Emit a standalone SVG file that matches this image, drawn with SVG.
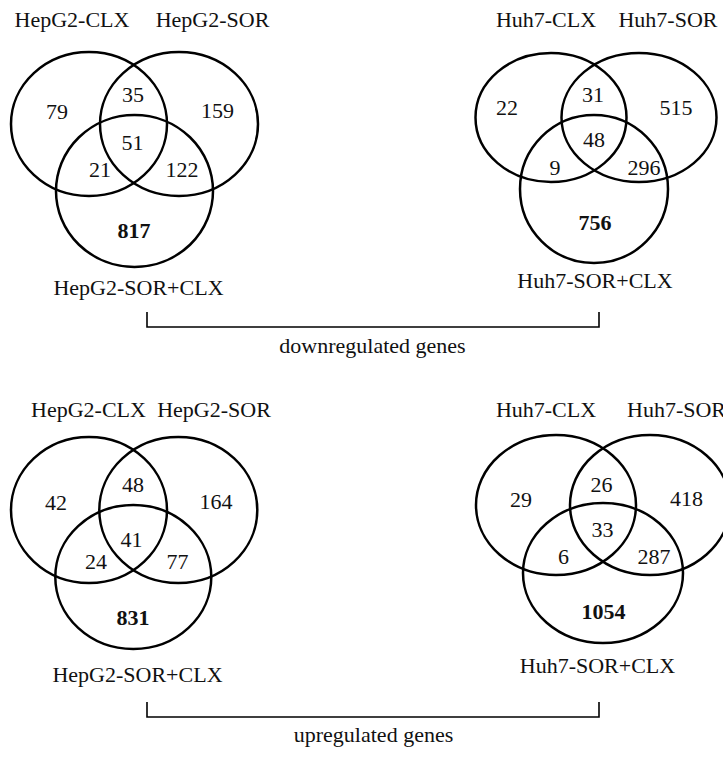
<svg xmlns="http://www.w3.org/2000/svg" width="723" height="757" viewBox="0 0 723 757">
<style>
.c{fill:none;stroke:#000;stroke-width:2.5}
.t{font-family:"Liberation Serif","Times New Roman",serif;font-size:22px;fill:#111;text-anchor:middle}
.b{font-weight:bold}
.s{text-anchor:start}
.br{fill:none;stroke:#000;stroke-width:1.6}
</style>
<rect width="723" height="757" fill="#fff"/>
<g id="venn-hepg2-down">
<ellipse class="c" cx="89" cy="124" rx="78" ry="72"/>
<ellipse class="c" cx="179" cy="124" rx="79" ry="72"/>
<ellipse class="c" cx="134.5" cy="191" rx="78.5" ry="76"/>
<text class="t" x="72" y="27">HepG2-CLX</text>
<text class="t" x="212.5" y="27">HepG2-SOR</text>
<text class="t" x="57" y="119">79</text>
<text class="t" x="133" y="102">35</text>
<text class="t" x="217.5" y="118">159</text>
<text class="t" x="132.5" y="150">51</text>
<text class="t" x="100" y="177">21</text>
<text class="t" x="182" y="177">122</text>
<text class="t b" x="134" y="238">817</text>
<text class="t" x="138.5" y="295">HepG2-SOR+CLX</text>
</g>
<g id="venn-huh7-down">
<ellipse class="c" cx="551" cy="117.5" rx="75.5" ry="64.5"/>
<ellipse class="c" cx="639" cy="117.5" rx="77.5" ry="64.5"/>
<ellipse class="c" cx="594" cy="189" rx="74" ry="74"/>
<text class="t" x="546" y="27">Huh7-CLX</text>
<text class="t" x="668" y="27">Huh7-SOR</text>
<text class="t" x="507" y="115">22</text>
<text class="t" x="593" y="102">31</text>
<text class="t" x="676" y="115">515</text>
<text class="t" x="594" y="147">48</text>
<text class="t" x="555" y="175">9</text>
<text class="t" x="644" y="175">296</text>
<text class="t b" x="595" y="230">756</text>
<text class="t" x="595" y="288">Huh7-SOR+CLX</text>
</g>
<g id="venn-hepg2-up">
<ellipse class="c" cx="89" cy="510" rx="78" ry="73"/>
<ellipse class="c" cx="178.3" cy="510" rx="79" ry="73"/>
<ellipse class="c" cx="133.3" cy="577" rx="78" ry="72"/>
<text class="t" x="88.5" y="417">HepG2-CLX</text>
<text class="t" x="214" y="417">HepG2-SOR</text>
<text class="t" x="56" y="510">42</text>
<text class="t" x="133" y="492">48</text>
<text class="t" x="216" y="509">164</text>
<text class="t" x="131.5" y="547">41</text>
<text class="t" x="96" y="569">24</text>
<text class="t" x="177.5" y="569">77</text>
<text class="t b" x="133" y="625">831</text>
<text class="t" x="137.5" y="682">HepG2-SOR+CLX</text>
</g>
<g id="venn-huh7-up">
<ellipse class="c" cx="556" cy="505" rx="80" ry="70"/>
<ellipse class="c" cx="650" cy="505" rx="80" ry="70"/>
<ellipse class="c" cx="603" cy="573" rx="80" ry="70"/>
<text class="t" x="546" y="417">Huh7-CLX</text>
<text class="t s" x="627" y="417">Huh7-SOR</text>
<text class="t" x="521" y="507">29</text>
<text class="t" x="601.5" y="492">26</text>
<text class="t" x="686.5" y="506">418</text>
<text class="t" x="602.5" y="537">33</text>
<text class="t" x="563.5" y="564">6</text>
<text class="t" x="654" y="564">287</text>
<text class="t b" x="603.5" y="619">1054</text>
<text class="t" x="597.5" y="673">Huh7-SOR+CLX</text>
</g>
<g id="connectors">
<path class="br" d="M147 312V327H599V312"/>
<text class="t" x="372.5" y="353">downregulated genes</text>
<path class="br" d="M147 702V717H599V702"/>
<text class="t" x="373.5" y="742">upregulated genes</text>
</g>
</svg>
